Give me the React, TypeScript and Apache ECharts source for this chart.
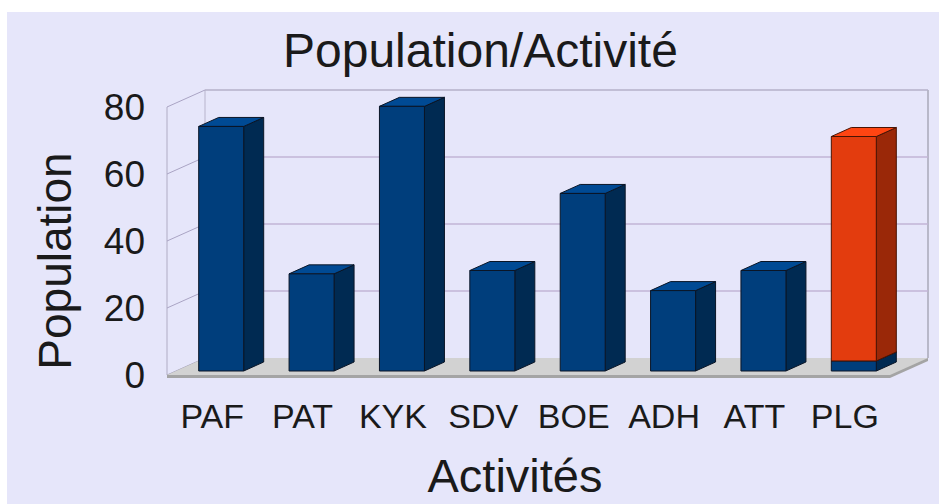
import React, { useEffect, useRef } from 'react';
import * as echarts from 'echarts';

const categories = ['PAF', 'PAT', 'KYK', 'SDV', 'BOE', 'ADH', 'ATT', 'PLG'];
const bluePopulation = [73, 29, 79, 30, 53, 24, 30, 3];
const redPopulation = [0, 0, 0, 0, 0, 0, 0, 67];
const yTicks = [0, 20, 40, 60, 80];

const WALL_DX = 38;
const WALL_DY = -17;
const BAR_OFF_X = 9;
const BAR_OFF_Y = -4;
const BAR_W = 45;
const BAR_DX = 20;
const BAR_DY = -9;

const FONT = '"Liberation Sans", Arial, sans-serif';

function makeBarRenderer(front: string, side: string, top: string, stroke: string) {
  return (params: any, api: any) => {
    const i = api.value(0);
    const base = api.value(1);
    const val = api.value(2);
    if (!(val > base)) return null;
    const pTop = api.coord([i, val]);
    const pBase = api.coord([i, base]);
    const x0 = pTop[0] + BAR_OFF_X - BAR_W / 2;
    const x1 = x0 + BAR_W;
    const yT = pTop[1] + BAR_OFF_Y;
    const yB = pBase[1] + BAR_OFF_Y;
    const ls = { stroke, lineWidth: 1 };
    return {
      type: 'group',
      children: [
        {
          type: 'polygon',
          shape: { points: [[x1, yB], [x1, yT], [x1 + BAR_DX, yT + BAR_DY], [x1 + BAR_DX, yB + BAR_DY]] },
          style: { fill: side, ...ls },
        },
        {
          type: 'polygon',
          shape: { points: [[x0, yT], [x1, yT], [x1 + BAR_DX, yT + BAR_DY], [x0 + BAR_DX, yT + BAR_DY]] },
          style: { fill: top, ...ls },
        },
        {
          type: 'rect',
          shape: { x: x0, y: yT, width: BAR_W, height: yB - yT },
          style: { fill: front, ...ls },
        },
      ],
    };
  };
}

function frameRenderer(params: any, api: any) {
  const cs = params.coordSys;
  const left = cs.x;
  const right = cs.x + cs.width;
  const v = api.value(1);
  const y = api.coord([0, v])[1];
  const children: any[] = [];
  if (v > 0) {
    children.push({
      type: 'line',
      shape: { x1: left + WALL_DX, y1: y + WALL_DY, x2: right + WALL_DX, y2: y + WALL_DY },
      style: { stroke: v === 80 ? '#b4b0c8' : '#c2b4d6', lineWidth: 1.5 },
    });
  }
  children.push({
    type: 'line',
    shape: { x1: left, y1: y, x2: left + WALL_DX, y2: y + WALL_DY },
    style: { stroke: '#aaa4c4', lineWidth: 1 },
  });
  if (v === 0) {
    const yTop = api.coord([0, 80])[1];
    children.push(
      { type: 'line', shape: { x1: left, y1: y, x2: left, y2: yTop }, style: { stroke: '#b0acc4', lineWidth: 1 } },
      { type: 'line', shape: { x1: left + WALL_DX, y1: y + WALL_DY, x2: left + WALL_DX, y2: yTop + WALL_DY }, style: { stroke: '#b8b4cc', lineWidth: 1 } },
      { type: 'line', shape: { x1: right + WALL_DX, y1: y + WALL_DY, x2: right + WALL_DX, y2: yTop + WALL_DY }, style: { stroke: '#a8a8b8', lineWidth: 1.5 } },
      {
        type: 'polygon',
        shape: { points: [[left, y + 3], [right, y + 3], [right + WALL_DX, y + WALL_DY + 3], [right + WALL_DX, y + WALL_DY], [left + WALL_DX, y + WALL_DY], [left, y]] },
        style: { fill: '#a4a4a4' },
      },
      {
        type: 'polygon',
        shape: { points: [[left, y], [right, y], [right + WALL_DX, y + WALL_DY], [left + WALL_DX, y + WALL_DY]] },
        style: { fill: '#d2d2d2' },
      }
    );
  }
  return { type: 'group', children };
}

export default function App() {
  const ref = useRef<HTMLDivElement>(null);
  useEffect(() => {
    if (!ref.current) return;
    const chart = echarts.init(ref.current, undefined, { renderer: 'svg' });
    const blueData = categories.map((_, i) => [i, 0, bluePopulation[i]]);
    const redData = categories.map((_, i) => [i, bluePopulation[i], bluePopulation[i] + redPopulation[i]]);
    chart.setOption({
      animation: false,
      backgroundColor: '#e6e6fa',
      title: {
        text: 'Population/Activité',
        left: 271,
        top: 9,
        padding: 5,
        textStyle: { fontFamily: FONT, fontSize: 48, fontWeight: 'normal', color: '#1a1a1a' },
      },
      grid: { left: 160, right: 49, top: 95, bottom: 129 },
      xAxis: {
        type: 'category',
        data: categories,
        axisLine: { show: false },
        axisTick: { show: false },
        axisLabel: { fontFamily: FONT, fontSize: 34, color: '#1a1a1a', margin: 24, interval: 0, hideOverlap: false },
        name: 'Activités',
        nameLocation: 'middle',
        nameGap: 77,
        nameTextStyle: { fontFamily: FONT, fontSize: 47, color: '#1a1a1a', padding: [0, 27, 0, 0] },
      },
      yAxis: {
        type: 'value',
        min: 0,
        max: 80,
        interval: 20,
        axisLine: { show: false },
        axisTick: { show: false },
        splitLine: { show: false },
        axisLabel: { fontFamily: FONT, fontSize: 37, color: '#1a1a1a', margin: 22 },
        name: 'Population',
        nameLocation: 'middle',
        nameGap: 89,
        nameTextStyle: { fontFamily: FONT, fontSize: 46, color: '#1a1a1a', padding: [0, 40, 0, 0] },
      },
      series: [
        {
          type: 'custom',
          name: 'frame',
          z: 1,
          silent: true,
          data: yTicks.map((v) => [0, v]),
          renderItem: frameRenderer,
        },
        {
          type: 'custom',
          name: 'Population',
          z: 3,
          data: blueData,
          encode: { x: 0, y: 2 },
          renderItem: makeBarRenderer('#003e7c', '#002a52', '#004a94', '#0a1526'),
        },
        {
          type: 'custom',
          name: 'PLG',
          z: 4,
          data: redData,
          encode: { x: 0, y: 2 },
          renderItem: makeBarRenderer('#e33c0e', '#9a2808', '#ff4512', '#4a1404'),
        },
      ],
    });
    return () => chart.dispose();
  }, []);
  return (
    <div style={{ position: 'fixed', left: 0, top: 0, width: 939, height: 504, background: '#ffffff' }}>
      <div ref={ref} style={{ position: 'absolute', left: 7, top: 12, width: 932, height: 492 }} />
    </div>
  );
}
